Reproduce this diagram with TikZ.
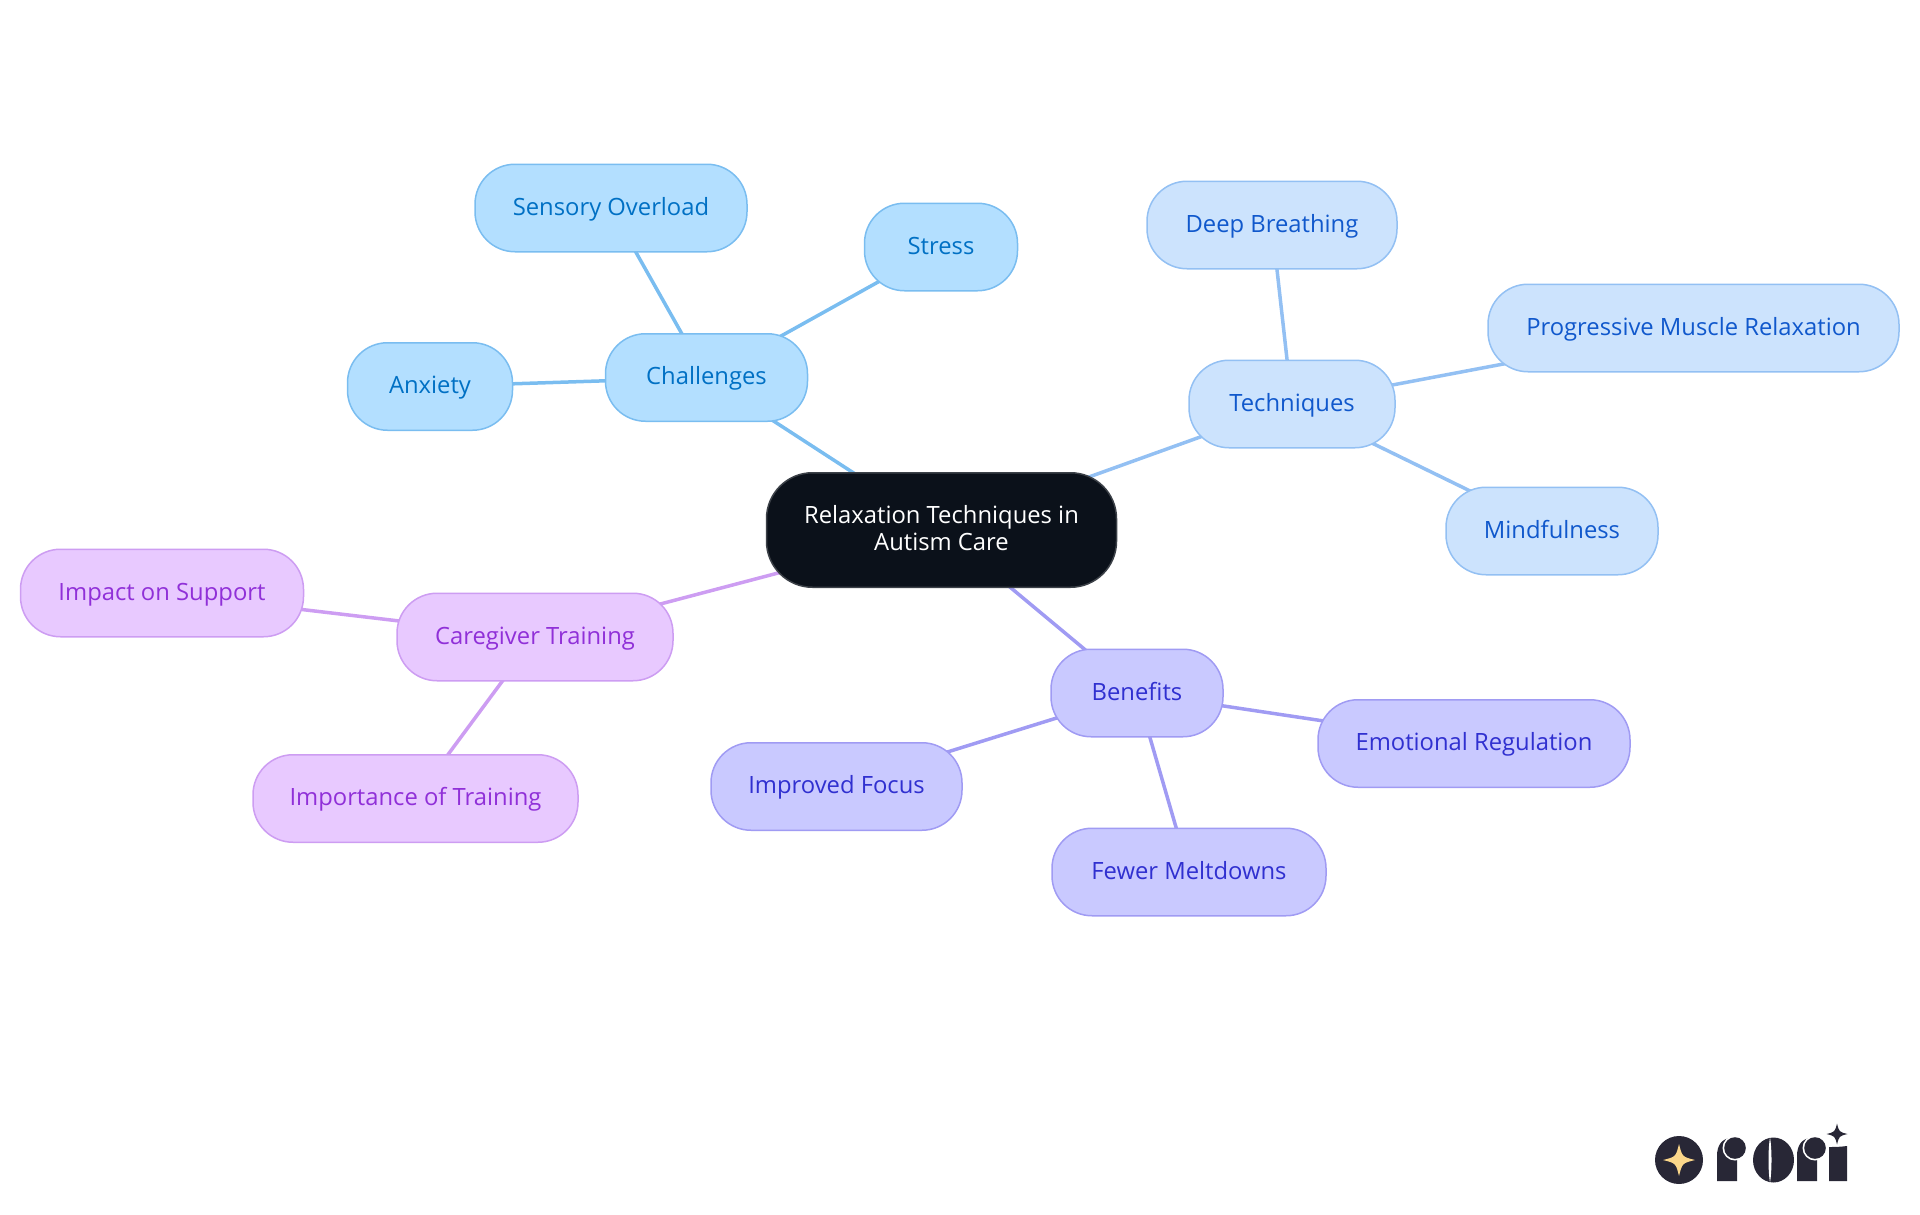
\documentclass[tikz,border=0pt]{standalone}
\usepackage{fontspec}
\setmainfont{Open Sans}
\usetikzlibrary{backgrounds}
\def\sparkle[#1](#2,#3)(#4){\fill[#1] (#2-#4,#3) .. controls (#2-#4*0.2,#3-#4*0.2) .. (#2,#3-#4) .. controls (#2+#4*0.2,#3-#4*0.2) .. (#2+#4,#3) .. controls (#2+#4*0.2,#3+#4*0.2) .. (#2,#3+#4) .. controls (#2-#4*0.2,#3+#4*0.2) .. cycle;}
\def\roriarm[#1](#2){\fill[#1] (#2,1181) -- (#2,1156) .. controls (#2,1145) and (#2+5,1139) .. (#2+13,1138) -- (#2+20,1138) -- (#2+20,1181) -- cycle; \fill[white] (#2+18,1148) circle (12.5); \fill[#1] (#2+18,1148) circle (10.8);}
\definecolor{challengesfill}{HTML}{B3DFFF}
\definecolor{challengesline}{HTML}{7ABDF0}
\definecolor{challengestext}{HTML}{0070C4}
\definecolor{techniquesfill}{HTML}{CCE3FD}
\definecolor{techniquesline}{HTML}{93C0F3}
\definecolor{techniquestext}{HTML}{1058CC}
\definecolor{benefitsfill}{HTML}{C9C9FF}
\definecolor{benefitsline}{HTML}{A09BF3}
\definecolor{benefitstext}{HTML}{3030D0}
\definecolor{caregiverfill}{HTML}{E8C9FF}
\definecolor{caregiverline}{HTML}{CD9DF2}
\definecolor{caregivertext}{HTML}{9030D8}
\definecolor{rootfill}{HTML}{0B111A}
\definecolor{rootline}{HTML}{3C4148}
\definecolor{roridark}{HTML}{282736}
\definecolor{rorigold}{HTML}{FBD78A}
\tikzset{
	mindnode/.style={rectangle, rounded corners=40pt, minimum height=87.5pt, inner sep=0pt, align=center, line width=1.5pt, text height=19pt, text depth=5pt, font=\fontsize{23.8}{27}\selectfont},
	challengesnode/.style={mindnode, draw=challengesline, fill=challengesfill, text=challengestext},
	techniquesnode/.style={mindnode, draw=techniquesline, fill=techniquesfill, text=techniquestext},
	benefitsnode/.style={mindnode, draw=benefitsline, fill=benefitsfill, text=benefitstext},
	caregivernode/.style={mindnode, draw=caregiverline, fill=caregiverfill, text=caregivertext},
	rootnode/.style={mindnode, rounded corners=46pt, minimum height=114.5pt, text height=, text depth=5pt, draw=rootline, fill=rootfill, text=white},
	branch/.style={line width=3.5pt}
}

\begin{document}
\begin{tikzpicture}[x=1pt, y=-1pt]
	%%%%% START %%%%%
	
	\useasboundingbox (0, 0) rectangle (1920, 1215);
	
	\node[rootnode, minimum width=350pt] (root) at (941.5, 530) {Relaxation Techniques in\\Autism Care};
	
	\node[challengesnode, minimum width=202pt] (challenges) at (706.5, 377.5) {Challenges};
	\node[challengesnode, minimum width=272pt] (sensory) at (611, 208) {Sensory Overload};
	\node[challengesnode, minimum width=153pt] (stress) at (941, 247) {Stress};
	\node[challengesnode, minimum width=165pt] (anxiety) at (430, 386.5) {Anxiety};
	
	\node[techniquesnode, minimum width=206pt] (techniques) at (1292, 404) {Techniques};
	\node[techniquesnode, minimum width=250pt] (breathing) at (1272, 225) {Deep Breathing};
	\node[techniquesnode, minimum width=411pt] (progressive) at (1693.5, 328) {Progressive Muscle Relaxation};
	\node[techniquesnode, minimum width=212pt] (mindfulness) at (1552, 531) {Mindfulness};
	
	\node[benefitsnode, minimum width=172pt] (benefits) at (1137, 693) {Benefits};
	\node[benefitsnode, minimum width=312pt] (emotional) at (1474, 743.5) {Emotional Regulation};
	\node[benefitsnode, minimum width=251pt] (focus) at (836.5, 786.5) {Improved Focus};
	\node[benefitsnode, minimum width=274pt] (meltdowns) at (1189, 872) {Fewer Meltdowns};
	
	\node[caregivernode, minimum width=276pt] (caregiver) at (535, 637) {Caregiver Training};
	\node[caregivernode, minimum width=283pt] (impact) at (162, 593) {Impact on Support};
	\node[caregivernode, minimum width=325pt] (importance) at (415.5, 798.5) {Importance of Training};
	
	\begin{scope}[on background layer]
		\draw[branch, color=challengesline] (root.center) -- (challenges.center);
		\draw[branch, color=challengesline] (challenges.center) -- (sensory.center);
		\draw[branch, color=challengesline] (challenges.center) -- (stress.center);
		\draw[branch, color=challengesline] (challenges.center) -- (anxiety.center);
		
		\draw[branch, color=techniquesline] (root.center) -- (techniques.center);
		\draw[branch, color=techniquesline] (techniques.center) -- (breathing.center);
		\draw[branch, color=techniquesline] (techniques.center) -- (progressive.center);
		\draw[branch, color=techniquesline] (techniques.center) -- (mindfulness.center);
		
		\draw[branch, color=benefitsline] (root.center) -- (benefits.center);
		\draw[branch, color=benefitsline] (benefits.center) -- (emotional.center);
		\draw[branch, color=benefitsline] (benefits.center) -- (focus.center);
		\draw[branch, color=benefitsline] (benefits.center) -- (meltdowns.center);
		
		\draw[branch, color=caregiverline] (root.center) -- (caregiver.center);
		\draw[branch, color=caregiverline] (caregiver.center) -- (impact.center);
		\draw[branch, color=caregiverline] (caregiver.center) -- (importance.center);
	\end{scope}
	
	% logo
	\fill[roridark] (1679, 1160) circle (24);
	\sparkle[rorigold](1679,1160)(16);
	
	\roriarm[roridark](1717);
	
	\fill[roridark] (1773.5, 1160) ellipse (20.5 and 22.5);
	\fill[white] (1770, 1137) .. controls (1768, 1150) and (1768, 1170) .. (1770, 1183) .. controls (1772, 1170) and (1772, 1150) .. cycle;
	
	\roriarm[roridark](1797);
	
	\fill[roridark] (1829, 1181) -- (1829, 1147) .. controls (1834, 1147) and (1840, 1147) .. (1847, 1146) -- (1847, 1181) -- cycle;
	\sparkle[white](1837,1134)(13);
	\sparkle[roridark](1837,1134)(10.5);
	
	%%%%% END %%%%%
\end{tikzpicture}
\end{document}
